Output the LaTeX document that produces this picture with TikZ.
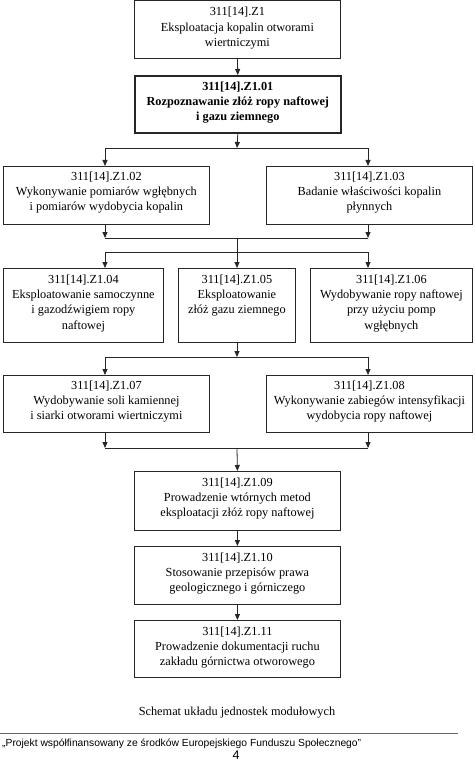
\documentclass[tikz,border=0pt]{standalone}
\usepackage{fontspec}
\setmainfont{Liberation Serif}
\newfontfamily\footfont{Liberation Sans}
\usetikzlibrary{arrows.meta}
\begin{document}
\begin{tikzpicture}[x=1pt,y=-1pt,
  box/.style={draw=black!85, line width=0.8pt, inner sep=0pt, anchor=north west},
  boldbox/.style={box, line width=1.6pt},
  txt/.style={align=center, inner sep=0pt, anchor=north, font=\fontsize{12.3}{15.3}\selectfont},
  arr/.style={draw=black!85, line width=0.8pt, -{Triangle[length=6pt,width=5pt]}},
  ln/.style={draw=black!85, line width=0.8pt}]
\useasboundingbox (0,0) rectangle (474,762);
\fill[white] (0,0) rectangle (474,762);

% boxes
\node[box, minimum width=206pt, minimum height=57.5pt] (z1) at (134,0.5) {};
\node[txt] (z1t) at ([yshift=-6.5pt]z1.north) {311[14].Z1\\Eksploatacja kopalin otworami\\wiertniczymi};

\node[boldbox, minimum width=206pt, minimum height=57pt] (z101) at (134,75) {};
\node[txt, font=\fontsize{12.3}{15.3}\selectfont\bfseries] (z101t) at ([yshift=-6.5pt]z101.north) {311[14].Z1.01\\Rozpoznawanie złóż ropy naftowej\\i gazu ziemnego};

\node[box, minimum width=206pt, minimum height=58pt] (z102) at (3,166) {};
\node[txt] (z102t) at ([yshift=-5.5pt]z102.north) {311[14].Z1.02\\Wykonywanie pomiarów wgłębnych\\i pomiarów wydobycia kopalin};

\node[box, minimum width=206pt, minimum height=58pt] (z103) at (266,166) {};
\node[txt] (z103t) at ([yshift=-5.5pt]z103.north) {311[14].Z1.03\\Badanie właściwości kopalin\\płynnych};

\node[box, minimum width=160pt, minimum height=74pt] (z104) at (3,268) {};
\node[txt] (z104t) at ([yshift=-6.5pt]z104.north) {311[14].Z1.04\\Eksploatowanie samoczynne\\i gazodźwigiem ropy\\naftowej};

\node[box, minimum width=117pt, minimum height=74pt] (z105) at (178,268) {};
\node[txt] (z105t) at ([yshift=-6.5pt]z105.north) {311[14].Z1.05\\Eksploatowanie\\złóż gazu ziemnego};

\node[box, minimum width=162pt, minimum height=74pt] (z106) at (310,268) {};
\node[txt] (z106t) at ([yshift=-6.5pt]z106.north) {311[14].Z1.06\\Wydobywanie ropy naftowej\\przy użyciu pomp\\wgłębnych};

\node[box, minimum width=206pt, minimum height=57pt] (z107) at (3,375) {};
\node[txt] (z107t) at ([yshift=-5.5pt]z107.north) {311[14].Z1.07\\Wydobywanie soli kamiennej\\i siarki otworami wiertniczymi};

\node[box, minimum width=206pt, minimum height=57pt] (z108) at (266,375) {};
\node[txt] (z108t) at ([yshift=-5.5pt]z108.north) {311[14].Z1.08\\Wykonywanie zabiegów intensyfikacji\\wydobycia ropy naftowej};

\node[box, minimum width=206pt, minimum height=59pt] (z109) at (134,471) {};
\node[txt] (z109t) at ([yshift=-6.5pt]z109.north) {311[14].Z1.09\\Prowadzenie wtórnych metod\\eksploatacji złóż ropy naftowej};

\node[box, minimum width=206pt, minimum height=58pt] (z110) at (134,546) {};
\node[txt] (z110t) at ([yshift=-6.5pt]z110.north) {311[14].Z1.10\\Stosowanie przepisów prawa\\geologicznego i górniczego};

\node[box, minimum width=206pt, minimum height=57pt] (z111) at (134,620) {};
\node[txt] (z111t) at ([yshift=-6.5pt]z111.north) {311[14].Z1.11\\Prowadzenie dokumentacji ruchu\\zakładu górnictwa otworowego};

% junction coordinates
\coordinate (j1) at (237,148); \coordinate (j1l) at (105,148); \coordinate (j1r) at (368,148);
\coordinate (j2) at (237,238); \coordinate (j2l) at (105,238); \coordinate (j2r) at (368,238);
\coordinate (j3) at (237,252); \coordinate (j3l) at (105,252); \coordinate (j3r) at (368,252);
\coordinate (j4) at (237,357); \coordinate (j4l) at (105,357); \coordinate (j4r) at (368,357);
\coordinate (j5) at (237,448); \coordinate (j5l) at (105,448); \coordinate (j5r) at (368,448);

% connectors
\draw[arr] (z1.south) -- (z101.north);
\draw[arr] (z101.south) -- (j1);
\draw[ln] (j1l) -- (j1r);
\draw[arr] (j1l) -- (j1l |- z102.north);
\draw[arr] (j1r) -- (j1r |- z103.north);

\draw[arr] (j2l |- z102.south) -- (j2l);
\draw[arr] (j2r |- z103.south) -- (j2r);
\draw[ln] (j2l) -- (j2r);
\draw[ln] (j2) -- (j3);
\draw[ln] (j3l) -- (j3r);
\draw[arr] (j3l) -- (j3l |- z104.north);
\draw[arr] (j3) -- (j3 |- z105.north);
\draw[arr] (j3r) -- (j3r |- z106.north);

\draw[arr] (j4 |- z105.south) -- (j4);
\draw[ln] (j4l) -- (j4r);
\draw[arr] (j4l) -- (j4l |- z107.north);
\draw[arr] (j4r) -- (j4r |- z108.north);

\draw[arr] (j5l |- z107.south) -- (j5l);
\draw[arr] (j5r |- z108.south) -- (j5r);
\draw[ln] (j5l) -- (j5r);
\draw[arr] (j5) -- (z109.north);

\draw[arr] (z109.south) -- (z110.north);
\draw[arr] (z110.south) -- (z111.north);

% caption and footer
\node[font=\fontsize{12.3}{15}\selectfont, inner sep=0pt] (cap) at (237,713) {Schemat układu jednostek modułowych};
\coordinate (fl) at (0,733); \coordinate (fr) at (458,733);
\draw[black!60, line width=0.7pt] (fl) -- (fr);
\node[font=\footfont\fontsize{10.3}{12}\selectfont, inner sep=0pt, anchor=west] (foot) at (2,744) {„Projekt współfinansowany ze środków Europejskiego Funduszu Społecznego”};
\node[font=\footfont\fontsize{12.5}{15}\selectfont, inner sep=0pt] (page) at (236,755) {4};
\end{tikzpicture}
\end{document}
